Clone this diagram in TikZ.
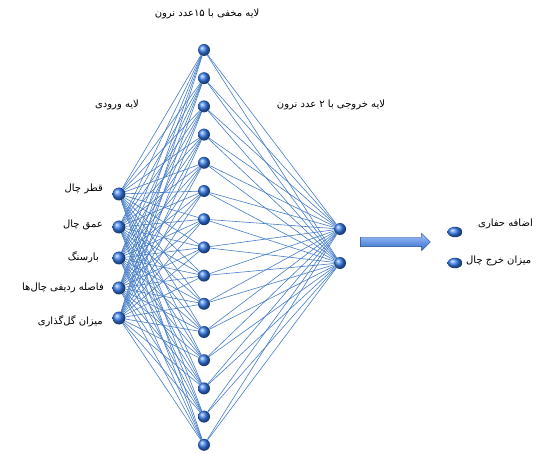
\documentclass[tikz,border=0pt]{standalone}
\usepackage{fontspec}
\newfontfamily\arabicfont[Script=Arabic]{DejaVu Sans}
\TeXXeTstate=1
\usetikzlibrary{shapes.geometric,shapes.arrows,backgrounds}
\definecolor{nodeblue}{RGB}{55,125,240}
\definecolor{edgeblue}{RGB}{70,125,200}
\tikzset{
  neuron/.style={circle, inner sep=0pt, minimum size=12pt, shading=ball, ball color=nodeblue},
  resultnode/.style={ellipse, inner sep=0pt, minimum width=15pt, minimum height=10.5pt, shading=ball, ball color=nodeblue},
  link/.style={draw=edgeblue, line width=0.6pt},
  fatext/.style={font=\arabicfont\fontsize{10}{12}\selectfont, inner sep=1pt}
}
\begin{document}
\begin{tikzpicture}[x=1pt,y=-1pt]
                    \useasboundingbox (0,0) rectangle (546,454);
                    % Input layer
                    \foreach \i/\y in {1/194,2/227,3/258,4/288,5/318}
                      \node[neuron, minimum size=13pt] (in\i) at (119,\y) {};
                    % Hidden layer
                    \foreach \j in {1,...,15}
                      \node[neuron] (hid\j) at (204,{50+(\j-1)*28.2}) {};
                    % Output layer
                    \node[neuron] (out1) at (340,229) {};
                    \node[neuron] (out2) at (340,263) {};
                    % Links
                    \begin{pgfonlayer}{background}
                      \foreach \i in {1,...,5}
                        \foreach \j in {1,...,15}
                          \draw[link] (in\i) -- (hid\j);
                      \foreach \j in {1,...,15}
                        \foreach \k in {1,2}
                          \draw[link] (hid\j) -- (out\k);
                    \end{pgfonlayer}
                    % Arrow
                    \node[single arrow, draw=nodeblue!60!black, line width=0.4pt, shading=axis, top color=nodeblue!45!white, bottom color=nodeblue!85!black,
                          minimum height=70pt, inner xsep=0pt, inner ysep=4.5pt, single arrow head extend=4pt] (arrow) at (393,242) {};
                    % Results
                    \node[resultnode] (res1) at (455,232) {};
                    \node[resultnode] (res2) at (455,263) {};
                    \node[fatext, anchor=west] (res1lab) at (477,224) {\beginR اضافه حفاری\endR};
                    \node[fatext, anchor=west] (res2lab) at (465,261) {\beginR میزان خرج چال\endR};
                    % Input labels
                    \node[fatext, anchor=east] (lab1) at (104,189) {\beginR قطر چال\endR};
                    \node[fatext, anchor=east] (lab2) at (104,225) {\beginR عمق چال\endR};
                    \node[fatext, anchor=east] (lab3) at (100,257) {\beginR بارسنگ\endR};
                    \node[fatext, anchor=east] (lab4) at (105,288) {\beginR فاصله ردیفی چال‌ها\endR};
                    \node[fatext, anchor=east] (lab5) at (104,321) {\beginR میزان گل‌گذاری\endR};
                    % Layer titles
                    \node[fatext] (hidtitle) at (207,14) {\beginR لایه مخفی با ۱۵عدد نرون\endR};
                    \node[fatext] (intitle) at (117,105) {\beginR لایه ورودی\endR};
                    \node[fatext] (outtitle) at (331,105) {\beginR لایه خروجی با ۲ عدد نرون\endR};
\end{tikzpicture}
\end{document}
